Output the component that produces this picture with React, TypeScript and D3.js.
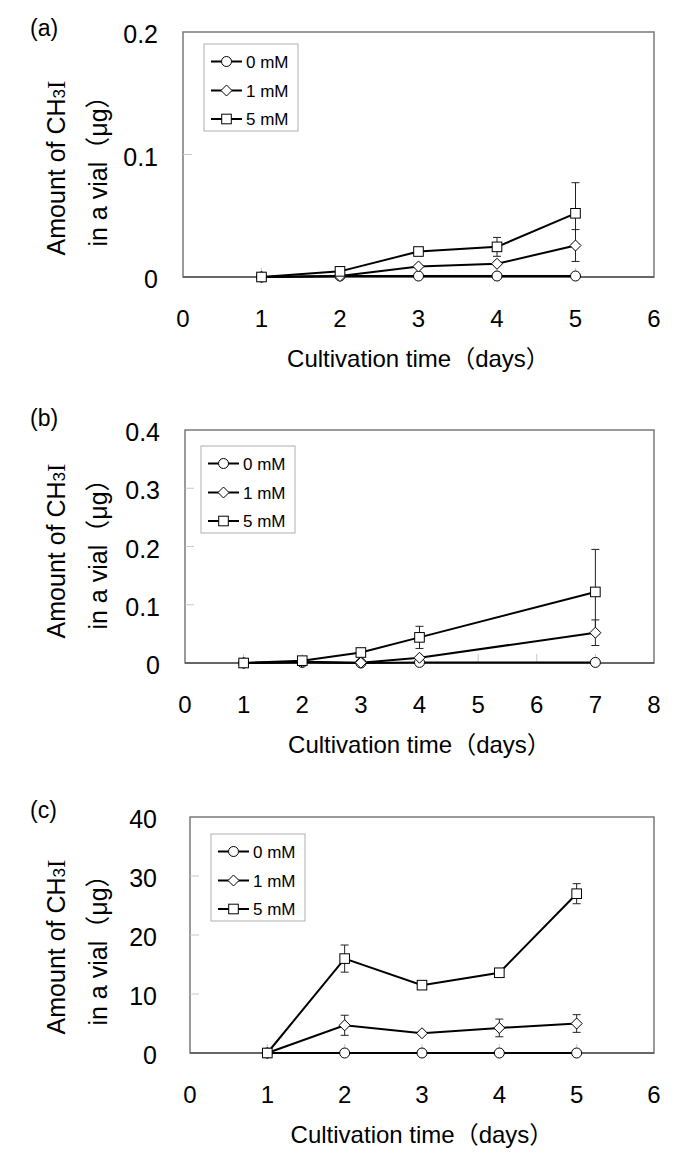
import React from "react";
import * as d3 from "d3";

// ---------- data ----------
const seriesNames = ["0 mM", "1 mM", "5 mM"];

const daysA = [1, 2, 3, 4, 5];
const a0 = [0, 0.0008, 0.0008, 0.0008, 0.0008];
const a1 = [0, 0.0008, 0.0086, 0.0108, 0.0257];
const a5 = [0, 0.0046, 0.0208, 0.0246, 0.052];
const a0Err = [0, 0, 0, 0, 0];
const a1Err = [0, 0, 0.001, 0.001, 0.013];
const a5Err = [0, 0.001, 0.001, 0.0077, 0.025];
const xTicksA = [0, 1, 2, 3, 4, 5, 6];
const yTicksA = [0, 0.1, 0.2];

const daysB = [1, 2, 3, 4, 7];
const b0 = [0, 0.001, 0, 0.001, 0.001];
const b1 = [0, 0.002, 0.0005, 0.009, 0.052];
const b5 = [0, 0.004, 0.018, 0.044, 0.122];
const b0Err = [0, 0, 0, 0, 0];
const b1Err = [0, 0, 0, 0.002, 0.022];
const b5Err = [0, 0.002, 0.001, 0.019, 0.073];
const xTicksB = [0, 1, 2, 3, 4, 5, 6, 7, 8];
const yTicksB = [0, 0.1, 0.2, 0.3, 0.4];

const daysC = [1, 2, 3, 4, 5];
const c0 = [0, 0, 0, 0, 0];
const c1 = [0, 4.7, 3.35, 4.25, 5.0];
const c5 = [0, 16.0, 11.5, 13.6, 27.0];
const c0Err = [0, 0, 0, 0, 0];
const c1Err = [0, 1.7, 0.3, 1.5, 1.5];
const c5Err = [0, 2.3, 0.3, 0.3, 1.7];
const xTicksC = [0, 1, 2, 3, 4, 5, 6];
const yTicksC = [0, 10, 20, 30, 40];

const panelLabels = ["(a)", "(b)", "(c)"];

// ---------- layout ----------
const layouts = [
  { left: 183, right: 654, top: 32, bottom: 277, labelY: 36, tickLabelX: 158, titleCY: 168, legL: 204, legT: 44 },
  { left: 185, right: 654, top: 430, bottom: 663, labelY: 426, tickLabelX: 160, titleCY: 551, legL: 201, legT: 446 },
  { left: 190, right: 654, top: 817, bottom: 1053, labelY: 818, tickLabelX: 157, titleCY: 947, legL: 211, legT: 834 },
];

const panels = [
  { days: daysA, vals: [a0, a1, a5], errs: [a0Err, a1Err, a5Err], xTicks: xTicksA, yTicks: yTicksA },
  { days: daysB, vals: [b0, b1, b5], errs: [b0Err, b1Err, b5Err], xTicks: xTicksB, yTicks: yTicksB },
  { days: daysC, vals: [c0, c1, c5], errs: [c0Err, c1Err, c5Err], xTicks: xTicksC, yTicks: yTicksC },
];

const FONT = "'Liberation Sans', Arial, 'Noto Sans CJK JP', sans-serif";

function Marker({ kind, x, y }: { kind: number; x: number; y: number }) {
  const common = { fill: "#fff", stroke: "#000", strokeWidth: 1 };
  if (kind === 0) return <circle cx={x} cy={y} r={5} {...common} />;
  if (kind === 1) {
    const s = 5.5;
    return <path d={`M${x},${y - s}L${x + s},${y}L${x},${y + s}L${x - s},${y}Z`} {...common} />;
  }
  return <rect x={x - 4.8} y={y - 4.8} width={9.6} height={9.6} {...common} />;
}

function Panel({ idx }: { idx: number }) {
  const p = panels[idx];
  const L = layouts[idx];
  const xMax = p.xTicks[p.xTicks.length - 1];
  const yMax = p.yTicks[p.yTicks.length - 1];
  const x = d3.scaleLinear().domain([0, xMax]).range([L.left, L.right]);
  const y = d3.scaleLinear().domain([0, yMax]).range([L.bottom, L.top]);
  const line = d3
    .line<[number, number]>()
    .x((d) => x(d[0]))
    .y((d) => y(d[1]));
  const fmt = (v: number) => (v === 0 ? "0" : String(v));
  const midX = (L.left + L.right) / 2;
  const legW = 94;
  const legH = 87;
  const rowYs = [17.5, 46.5, 75];

  return (
    <g>
      <text x={30} y={L.labelY} fontFamily={FONT} fontSize={23}>
        {panelLabels[idx]}
      </text>
      {/* frame */}
      <rect
        x={L.left}
        y={L.top}
        width={L.right - L.left}
        height={L.bottom - L.top}
        fill="#fff"
        stroke="#7a7a7a"
        strokeWidth={1.5}
      />
      {/* inner ticks */}
      {p.yTicks.slice(1, -1).map((t) => (
        <line key={"yt" + t} x1={L.left} x2={L.left + 9} y1={y(t)} y2={y(t)} stroke="#c8c8c8" strokeWidth={1} />
      ))}
      {p.xTicks.slice(1, -1).map((t) => (
        <line key={"xt" + t} x1={x(t)} x2={x(t)} y1={L.bottom} y2={L.bottom - 9} stroke="#c8c8c8" strokeWidth={1} />
      ))}
      <line x1={L.left} x2={L.right} y1={L.bottom} y2={L.bottom} stroke="#555" strokeWidth={1.5} />
      {/* tick labels */}
      {p.yTicks.map((t) => (
        <text key={"yl" + t} x={L.tickLabelX} y={y(t) + 11} textAnchor="end" fontFamily={FONT} fontSize={25}>
          {fmt(t)}
        </text>
      ))}
      {p.xTicks.map((t) => (
        <text key={"xl" + t} x={x(t)} y={L.bottom + 50} textAnchor="middle" fontFamily={FONT} fontSize={24}>
          {t}
        </text>
      ))}
      {/* axis titles */}
      <text x={midX} y={L.bottom + 90} textAnchor="middle" fontFamily={FONT} fontSize={24}>
        Cultivation time（days）
      </text>
      <text
        transform={`translate(65,${L.titleCY}) rotate(-90)`}
        textAnchor="middle"
        fontFamily={FONT}
        fontSize={25}
      >
        Amount of CH
        <tspan fontSize={17}>3</tspan>
        <tspan fontFamily="'Liberation Serif', serif">I</tspan>
      </text>
      <text
        transform={`translate(107,${L.titleCY - 3}) rotate(-90)`}
        textAnchor="middle"
        fontFamily={FONT}
        fontSize={25}
      >
        in a vial（μg）
      </text>
      {/* error bars */}
      {p.vals.map((vals, s) =>
        vals.map((v, i) => {
          const e = p.errs[s][i];
          if (!e) return null;
          const cx = x(p.days[i]);
          const y1 = y(v + e);
          const y2 = y(Math.max(v - e, 0));
          return (
            <g key={`e${s}-${i}`} stroke="#222" strokeWidth={1}>
              <line x1={cx} x2={cx} y1={y1} y2={y2} />
              <line x1={cx - 4} x2={cx + 4} y1={y1} y2={y1} />
              <line x1={cx - 4} x2={cx + 4} y1={y2} y2={y2} />
            </g>
          );
        })
      )}
      {/* lines */}
      {p.vals.map((vals, s) => (
        <path
          key={"l" + s}
          d={line(p.days.map((d, i) => [d, vals[i]] as [number, number])) || ""}
          fill="none"
          stroke="#000"
          strokeWidth={2}
        />
      ))}
      {/* markers */}
      {p.vals.map((vals, s) =>
        vals.map((v, i) => <Marker key={`m${s}-${i}`} kind={s} x={x(p.days[i])} y={y(v)} />)
      )}
      {/* legend */}
      <rect x={L.legL} y={L.legT} width={legW} height={legH} fill="#fff" stroke="#b0b0b0" strokeWidth={1} />
      {seriesNames.map((name, s) => {
        const ry = L.legT + rowYs[s];
        return (
          <g key={"lg" + s}>
            <line x1={L.legL + 7} x2={L.legL + 38} y1={ry} y2={ry} stroke="#000" strokeWidth={2} />
            <Marker kind={s} x={L.legL + 22.5} y={ry} />
            <text x={L.legL + 42} y={ry + 6} fontFamily={FONT} fontSize={17}>
              {name}
            </text>
          </g>
        );
      })}
    </g>
  );
}

export default function App() {
  return (
    <svg
      width={685}
      height={1165}
      style={{ position: "absolute", left: 0, top: 0, background: "#fff" }}
    >
      <rect width={685} height={1165} fill="#fff" />
      {panels.map((_, i) => (
        <Panel key={i} idx={i} />
      ))}
    </svg>
  );
}
